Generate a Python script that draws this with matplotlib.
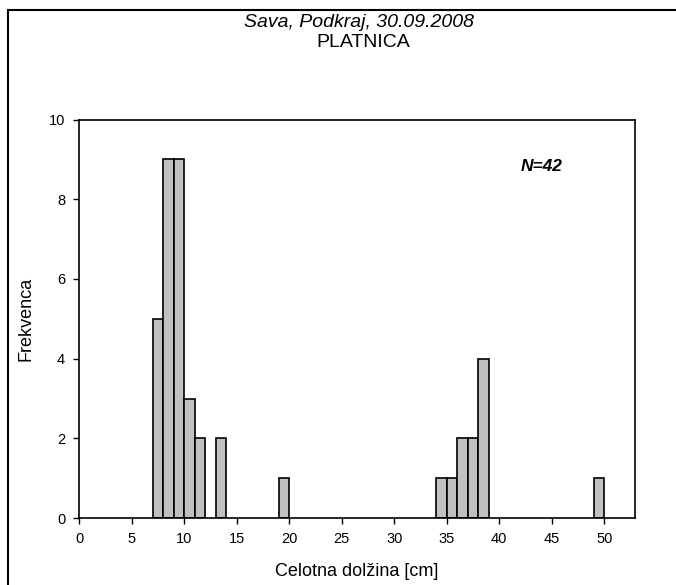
import matplotlib

matplotlib.use("Agg")
import matplotlib.pyplot as plt
from matplotlib.patches import Rectangle

plt.rcParams["font.family"] = ["Liberation Sans", "DejaVu Sans"]

# length classes (left edge, cm) and fish counts per class
length_bins = [7, 8, 9, 10, 11, 13, 19, 34, 35, 36, 37, 38, 49]
counts = [5, 9, 9, 3, 2, 2, 1, 1, 1, 2, 2, 4, 1]
x_ticks = [0, 5, 10, 15, 20, 25, 30, 35, 40, 45, 50]
y_ticks = [0, 2, 4, 6, 8, 10]
sample_size = sum(counts)

fig = plt.figure(figsize=(6.76, 5.85), dpi=100)
ax = fig.add_axes([0.117, 0.1145, 0.822, 0.681])

ax.bar(length_bins, counts, width=1, align="edge",
       color="#c0c0c0", edgecolor="black", linewidth=1.2)

ax.set_xlim(0, 52.9)
ax.set_ylim(0, 10)
ax.set_xticks(x_ticks)
ax.set_yticks(y_ticks)
ax.tick_params(direction="out", length=4, width=1, labelsize=10.5, color="black")
ax.tick_params(axis="x", pad=6)
ax.tick_params(axis="y", pad=6)
for spine in ax.spines.values():
    spine.set_linewidth(1.2)

ax.set_xlabel("Celotna dolžina [cm]", fontsize=13, labelpad=12)
ax.set_ylabel("Frekvenca", fontsize=13, labelpad=10)

ax.text(44.0, 8.83, f"N={sample_size}", fontsize=12.5, fontweight="bold",
        fontstyle="italic", ha="center", va="center")

fig.text(0.531, 0.962, "Sava, Podkraj, 30.09.2008", fontsize=14,
         fontstyle="italic", ha="center", va="center")
fig.text(0.537, 0.927, "PLATNICA", fontsize=14, ha="center", va="center")

# outer frame around the chart area
fig.patches.append(Rectangle((8 / 676, -0.1), 1.2, 1.1 - 10 / 585,
                             transform=fig.transFigure, fill=False,
                             edgecolor="black", linewidth=1.5))

fig.savefig("out.png", dpi=100)
